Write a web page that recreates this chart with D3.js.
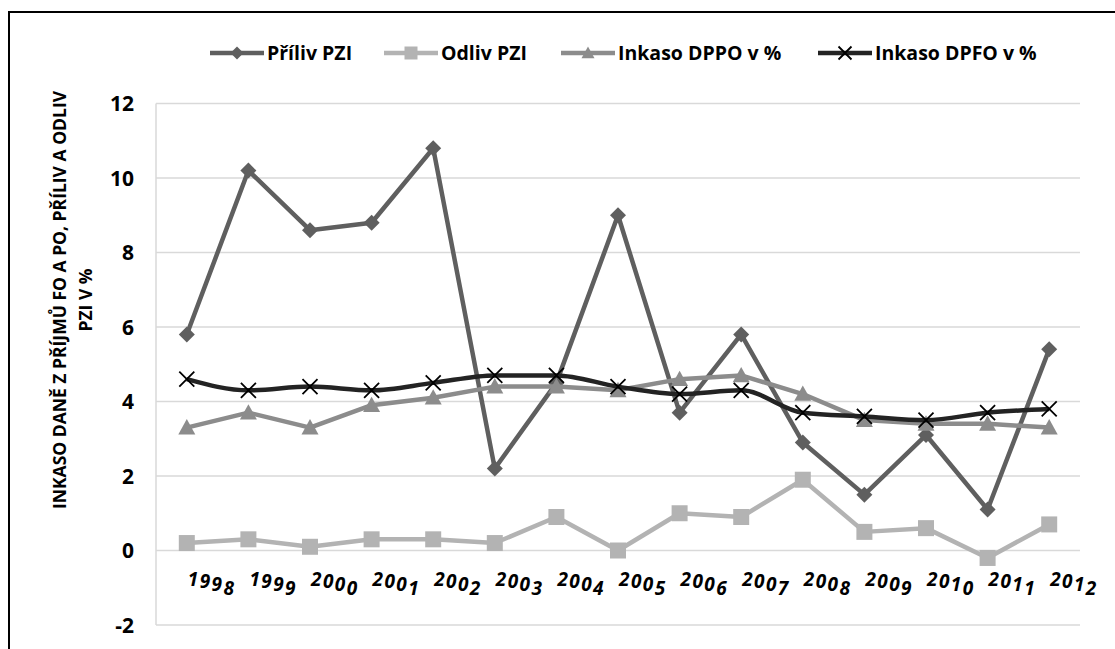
<!DOCTYPE html>
<html>
<head>
<meta charset="utf-8">
<script src="https://cdn.jsdelivr.net/npm/d3@7"></script>
<style>
  html, body { margin: 0; padding: 0; background: #fff; }
  #chart { width: 1115px; height: 649px; }
  text { font-family: "Open Sans", "Liberation Sans", sans-serif; font-weight: bold; }
</style>
</head>
<body>
<div id="chart"></div>
<script>
const years = ["1998", "1999", "2000", "2001", "2002", "2003", "2004", "2005",
  "2006", "2007", "2008", "2009", "2010", "2011", "2012"];
const prilivPZI = [5.8, 10.2, 8.6, 8.8, 10.8, 2.2, 4.5, 9.0, 3.7, 5.8, 2.9, 1.5, 3.1, 1.1, 5.4];
const odlivPZI = [0.2, 0.3, 0.1, 0.3, 0.3, 0.2, 0.9, 0.0, 1.0, 0.9, 1.9, 0.5, 0.6, -0.2, 0.7];
const inkasoDPPO = [3.3, 3.7, 3.3, 3.9, 4.1, 4.4, 4.4, 4.3, 4.6, 4.7, 4.2, 3.5, 3.4, 3.4, 3.3];
const inkasoDPFO = [4.6, 4.3, 4.4, 4.3, 4.5, 4.7, 4.7, 4.4, 4.2, 4.3, 3.7, 3.6, 3.5, 3.7, 3.8];
const seriesNames = ["Příliv PZI", "Odliv PZI", "Inkaso DPPO v %", "Inkaso DPFO v %"];
const yTicks = [-2, 0, 2, 4, 6, 8, 10, 12];
const titleLines = ["INKASO DANĚ Z PŘÍJMŮ FO A PO, PŘÍLIV A ODLIV", "PZI V %"];

const width = 1115;
const height = 649;

const series = [
  { name: seriesNames[0], values: prilivPZI, color: "#5f5f5f", marker: "diamond", width: 4.5 },
  { name: seriesNames[1], values: odlivPZI, color: "#b3b3b3", marker: "square", width: 4.5 },
  { name: seriesNames[2], values: inkasoDPPO, color: "#8c8c8c", marker: "triangle", width: 4.5 },
  { name: seriesNames[3], values: inkasoDPFO, color: "#232323", marker: "cross", width: 4.5 },
];

const svg = d3.select("#chart")
  .append("svg")
  .attr("width", width)
  .attr("height", height)
  .attr("viewBox", `0 0 ${width} ${height}`);

// chart border (runs off the right and bottom edge)
svg.append("rect")
  .attr("x", 9).attr("y", 12)
  .attr("width", 1200).attr("height", 700)
  .attr("fill", "#fff")
  .attr("stroke", "#000")
  .attr("stroke-width", 2);

const plot = { left: 156, right: 1080, top: 103.5, bottom: 625 };

const x = d3.scaleBand().domain(years).range([plot.left, plot.right]);
const y = d3.scaleLinear().domain([-2, 12]).range([plot.bottom, plot.top]);
const cx = (d) => x(d) + x.bandwidth() / 2;

// gridlines
svg.append("g")
  .selectAll("line")
  .data(yTicks)
  .join("line")
  .attr("x1", plot.left).attr("x2", plot.right)
  .attr("y1", (d) => y(d)).attr("y2", (d) => y(d))
  .attr("stroke", "#d9d9d9")
  .attr("stroke-width", 1.5);

svg.append("line")
  .attr("x1", plot.left).attr("x2", plot.left)
  .attr("y1", plot.top).attr("y2", plot.bottom)
  .attr("stroke", "#d9d9d9")
  .attr("stroke-width", 1.5);

// y tick labels
svg.append("g")
  .selectAll("text")
  .data(yTicks)
  .join("text")
  .attr("x", 134)
  .attr("y", (d) => y(d))
  .attr("dy", "0.36em")
  .attr("text-anchor", "end")
  .attr("font-size", 21)
  .attr("fill", "#000")
  .text((d) => d);

// y title, two centred lines
const titleCenter = 300;
titleLines.forEach((line, i) => {
  svg.append("text")
    .attr("transform", `translate(${66 + i * 26}, ${titleCenter}) rotate(-90)`)
    .attr("text-anchor", "middle")
    .attr("font-size", 17.5)
    .attr("fill", "#000")
    .text(line);
});

// x labels: every char drops a little, like the original
const xLabels = svg.append("g");
years.forEach((yr) => {
  const t = xLabels.append("text")
    .attr("x", cx(yr) + 1)
    .attr("y", 586)
    .attr("font-size", 19)
    .attr("font-style", "italic")
    .attr("letter-spacing", 1.4)
    .attr("fill", "#000");
  const drops = [0, 2.3, 2.3, 4];
  yr.split("").forEach((ch, j) => {
    t.append("tspan").attr("dy", drops[j]).text(ch);
  });
});

// markers
const markerPath = (type, s) => {
  const h = s / 2;
  if (type === "diamond") return `M0,${-h}L${h},0L0,${h}L${-h},0Z`;
  if (type === "square") return `M${-h},${-h}H${h}V${h}H${-h}Z`;
  if (type === "triangle") return `M0,${-h}L${h},${h * 0.8}L${-h},${h * 0.8}Z`;
  return `M${-h},${-h}L${h},${h}M${-h},${h}L${h},${-h}`;
};

const drawMarker = (g, type, color, size) => {
  const p = g.append("path").attr("d", markerPath(type, size));
  if (type === "cross") {
    p.attr("fill", "none").attr("stroke", "#000").attr("stroke-width", 1.8);
  } else {
    p.attr("fill", color);
  }
  return p;
};

series.forEach((s) => {
  const line = d3.line()
    .x((d, i) => cx(years[i]))
    .y((d) => y(d));
  if (s.marker === "cross") line.curve(d3.curveMonotoneX);

  svg.append("path")
    .datum(s.values)
    .attr("d", line)
    .attr("fill", "none")
    .attr("stroke", s.color)
    .attr("stroke-width", s.width)
    .attr("stroke-linejoin", "round");

  const size = s.marker === "triangle" ? 17 : s.marker === "cross" ? 15 : 16;
  s.values.forEach((v, i) => {
    const g = svg.append("g").attr("transform", `translate(${cx(years[i])}, ${y(v)})`);
    drawMarker(g, s.marker, s.color, size);
  });
});

// legend
const legendY = 53;
const legendX = [210, 384, 561, 818];
series.forEach((s, i) => {
  const g = svg.append("g").attr("transform", `translate(${legendX[i]}, ${legendY})`);
  g.append("line")
    .attr("x1", 0).attr("x2", 54)
    .attr("stroke", s.color)
    .attr("stroke-width", s.width);
  const m = g.append("g").attr("transform", "translate(27, 0)");
  drawMarker(m, s.marker, s.color, 13);
  g.append("text")
    .attr("x", 57)
    .attr("dy", "0.36em")
    .attr("font-size", 19.5)
    .attr("fill", "#000")
    .text(s.name);
});
</script>
</body>
</html>
